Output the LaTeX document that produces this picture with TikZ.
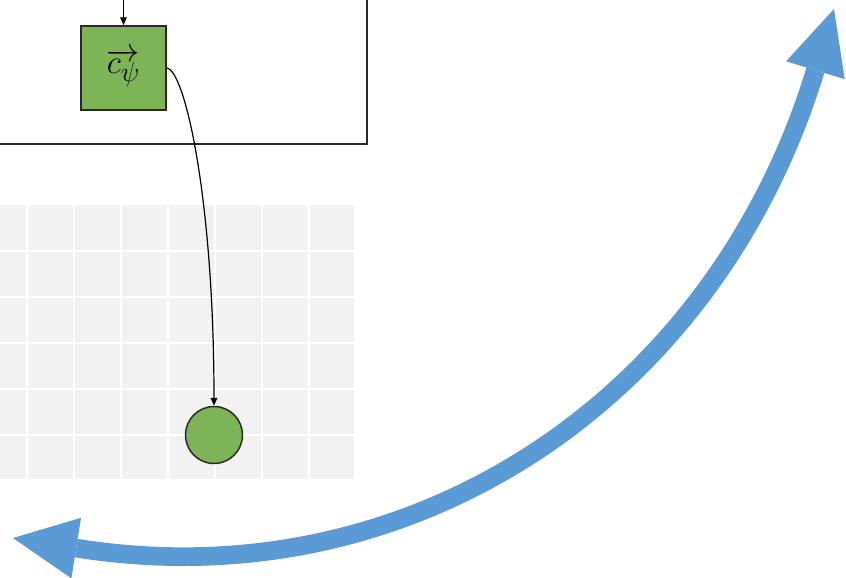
\documentclass[tikz,border=0pt]{standalone}
\usepackage{tikz}
\usetikzlibrary{positioning, arrows.meta}
\definecolor{myblue}{RGB}{91, 155, 213}
\definecolor{mygreen}{RGB}{124, 180, 86}
\definecolor{mygray}{RGB}{242, 242, 242}
\definecolor{mydark}{RGB}{40, 40, 40}

\begin{document}
\begin{tikzpicture}[x=0.75pt, y=-0.75pt,
    % --- Stili per nodi e frecce ---
    vec_box/.style={rectangle, draw=mydark, line width=1.1pt, fill=mygreen, minimum width=63.75pt, minimum height=63pt, inner sep=0},
    green_point/.style={circle, draw=mydark, line width=1.1pt, fill=mygreen, minimum size=42.75pt, inner sep=0},
    grid_line/.style={white, line width=1.5pt},
    link/.style={black, line width=0.9pt, -{Triangle[length=6pt, width=5pt]}},
    big_arrow/.style={myblue, line width=14pt, {Triangle[length=48pt, width=46pt, line width=0pt]}-{Triangle[length=48pt, width=46pt, line width=0pt]}}
]

% 0. Area del disegno
\useasboundingbox (0,0) rectangle (846,578);
\clip (0,0) rectangle (846,578);

% 1. Griglia grigia sullo sfondo
\fill[mygray] (-20,205) rectangle (354,479);
\foreach \x in {27,74,...,309} \draw[grid_line] (\x,205) -- (\x,479);
\foreach \y in {251,297,...,435} \draw[grid_line] (-20,\y) -- (354,\y);

% 2. Riquadro esterno (tagliato dai bordi)
\draw[mydark, line width=1.5pt] (-10,-10) rectangle (367,144);

% 3. Il vettore c_psi e il punto sulla griglia
\node (c_psi) [vec_box] at (123.5,68) {\fontsize{28}{32}\selectfont $\overrightarrow{c_{\psi}}$};
\node (punto) [green_point] at (214,435) {};

% 4. Frecce sottili
\coordinate (ingresso) at (123.5,-5);
\draw[link] (ingresso) -- (c_psi.north);
\draw[link] (c_psi.east) .. controls (185,70) and (214,200) .. (punto.north);

% 5. Grande freccia blu a doppia punta
\coordinate (freccia_sx) at (13,538);
\coordinate (freccia_dx) at (834,9);
\draw[big_arrow] (freccia_sx) .. controls (414,602) and (716,397) .. (freccia_dx);
\end{tikzpicture}
\end{document}
